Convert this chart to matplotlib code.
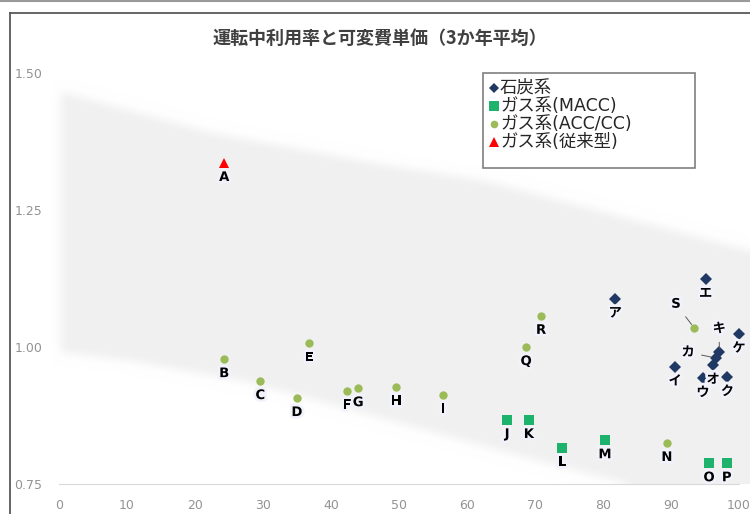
import numpy as np
import matplotlib
matplotlib.use("Agg")
import matplotlib.pyplot as plt
from matplotlib.lines import Line2D
from matplotlib.patches import Rectangle
from matplotlib.path import Path
import matplotlib.patheffects as pe

plt.rcParams['font.family'] = ['DejaVu Sans', 'Noto Sans CJK JP']

# ---- data: operating utilisation rate (%) and variable cost unit price ----
coal_names = ['ア', 'イ', 'ウ', 'エ', 'オ', 'カ', 'キ', 'ク', 'ケ']
coal_x = [81.8, 90.6, 94.7, 95.1, 96.2, 96.6, 97.1, 98.3, 100.0]
coal_y = [1.088, 0.964, 0.943, 1.124, 0.967, 0.980, 0.990, 0.945, 1.024]

macc_names = ['J', 'K', 'L', 'M', 'O', 'P']
macc_x = [65.9, 69.1, 74.0, 80.3, 95.6, 98.2]
macc_y = [0.867, 0.867, 0.816, 0.830, 0.788, 0.788]

acc_names = ['B', 'C', 'D', 'E', 'F', 'G', 'H', 'I', 'N', 'Q', 'R', 'S']
acc_x = [24.3, 29.6, 35.0, 36.8, 42.4, 44.0, 49.6, 56.5, 89.4, 68.7, 70.9, 93.4]
acc_y = [0.978, 0.938, 0.907, 1.007, 0.920, 0.925, 0.927, 0.913, 0.825, 1.000, 1.057, 1.035]

conv_names = ['A']
conv_x = [24.3]
conv_y = [1.336]

series_labels = ['石炭系', 'ガス系(MACC)', 'ガス系(ACC/CC)', 'ガス系(従来型)']
x_ticks = [0, 10, 20, 30, 40, 50, 60, 70, 80, 90, 100]
y_ticks = [0.75, 1.00, 1.25, 1.50]
title = '運転中利用率と可変費単価（3か年平均）'

# ---- styles ----
styles = [
    dict(marker='D', color='#1F3864', ms=6.0),
    dict(marker='s', color='#1DB36C', ms=7.5),
    dict(marker='o', color='#9BBB59', ms=6.0),
    dict(marker='^', color='#FF0000', ms=7.5),
]

W, H = 750, 514
fig = plt.figure(figsize=(W / 100, H / 100), dpi=100)
fig.patch.set_facecolor('white')

ax_left, ax_right, ax_top, ax_bottom = 59, 739, 73, 484
ax = fig.add_axes([ax_left / W, 1 - ax_bottom / H,
                   (ax_right - ax_left) / W, (ax_bottom - ax_top) / H])
ax.set_facecolor('none')

# soft grey band in the background
gx0, gx1 = -1.0, 101.6
gy0, gy1 = 0.75, 1.50
nx, ny = 700, 420
xs = np.linspace(gx0, gx1, nx)
ys = np.linspace(gy0, gy1, ny)
XX, YY = np.meshgrid(xs, ys)
band = Path([(0.3, 1.467), (23, 1.39), (48, 1.333), (63, 1.303), (102, 1.175),
             (102, 0.60), (85, 0.745), (71, 0.79), (28, 0.935), (10, 0.975),
             (0.3, 0.99), (0.3, 1.467)])
mask = band.contains_points(np.c_[XX.ravel(), YY.ravel()]).reshape(ny, nx).astype(float)
k = np.exp(-0.5 * (np.arange(-12, 13) / 4.5) ** 2)
k /= k.sum()
mask = np.apply_along_axis(lambda r: np.convolve(np.pad(r, 12, mode='edge'), k, 'valid'), 1, mask)
mask = np.apply_along_axis(lambda c: np.convolve(np.pad(c, 12, mode='edge'), k, 'valid'), 0, mask)
shade = 1 - 0.058 * mask
img = np.dstack([shade, shade, shade])
ax.imshow(img, extent=[gx0, gx1, gy0, gy1], origin='lower', aspect='auto',
          interpolation='bilinear', zorder=0, clip_on=False)
ax.set_xlim(0, 100)
ax.set_ylim(0.75, 1.50)

for s in ['top', 'right', 'left']:
    ax.spines[s].set_visible(False)
ax.spines['bottom'].set_color('#d9d9d9')
ax.spines['bottom'].set_linewidth(0.8)
ax.set_xticks(x_ticks)
ax.set_yticks(y_ticks)
ax.set_yticklabels([f'{v:.2f}' for v in y_ticks])
ax.tick_params(axis='both', length=0, labelsize=9, labelcolor='#939393')
ax.tick_params(axis='y', pad=12)
ax.tick_params(axis='x', pad=11)

halo = [pe.withStroke(linewidth=4, foreground='#f1f2fb')]
groups = [(coal_names, coal_x, coal_y), (macc_names, macc_x, macc_y),
          (acc_names, acc_x, acc_y), (conv_names, conv_x, conv_y)]

# labels that sit away from their point, joined by a leader line
leader = {'S': (-13, 17), 'カ': (-20, 4), 'キ': (0, 17)}

for (names, xv, yv), st in zip(groups, styles):
    ax.plot(xv, yv, linestyle='none', marker=st['marker'], color=st['color'],
            ms=st['ms'], markeredgewidth=0, zorder=3, clip_on=False)
    for n, x, y in zip(names, xv, yv):
        if n in leader:
            ax.annotate(n, (x, y), xytext=leader[n], textcoords='offset points',
                        ha='center', va='center', fontsize=9.5, fontweight='bold',
                        color='black', zorder=4, path_effects=halo,
                        arrowprops=dict(arrowstyle='-', color='#595959', lw=0.7,
                                        shrinkA=3, shrinkB=3))
        else:
            ax.annotate(n, (x, y), xytext=(0, -10.5), textcoords='offset points',
                        ha='center', va='center', fontsize=9.5, fontweight='bold',
                        color='black', zorder=4, path_effects=halo,
                        annotation_clip=False)

# title
fig.text(380 / W, 1 - 38 / H, title, ha='center', va='center', fontsize=13,
         fontweight='bold', color='#404040', family=['Noto Sans CJK JP'])

# legend box
fig.add_artist(Rectangle((483 / W, 1 - 168 / H), (695 - 483) / W, (168 - 73) / H,
                         transform=fig.transFigure, fill=True, facecolor='white',
                         edgecolor='#7f7f7f', lw=1.2, zorder=5))
for i, (lab, st) in enumerate(zip(series_labels, styles)):
    yy = 1 - (88 + 18 * i) / H
    fig.add_artist(Line2D([494 / W], [yy], transform=fig.transFigure, linestyle='none',
                          marker=st['marker'], color=st['color'], ms=st['ms'] - 0.5,
                          markeredgewidth=0, zorder=6))
    fig.text(500 / W, yy, lab, ha='left', va='center', fontsize=12.5,
             color='#262626', zorder=6)

# chart frame
fig.add_artist(Line2D([10 / W, 10 / W], [0, 1 - 13 / H], transform=fig.transFigure,
                      color='#595959', lw=1.3))
fig.add_artist(Line2D([10 / W, 1], [1 - 13 / H, 1 - 13 / H], transform=fig.transFigure,
                      color='#595959', lw=1.3))
fig.add_artist(Line2D([0, 1], [1 - 0.6 / H, 1 - 0.6 / H], transform=fig.transFigure,
                      color='#9a9a9a', lw=1.5))

fig.savefig('out.png', dpi=100, facecolor='white')
